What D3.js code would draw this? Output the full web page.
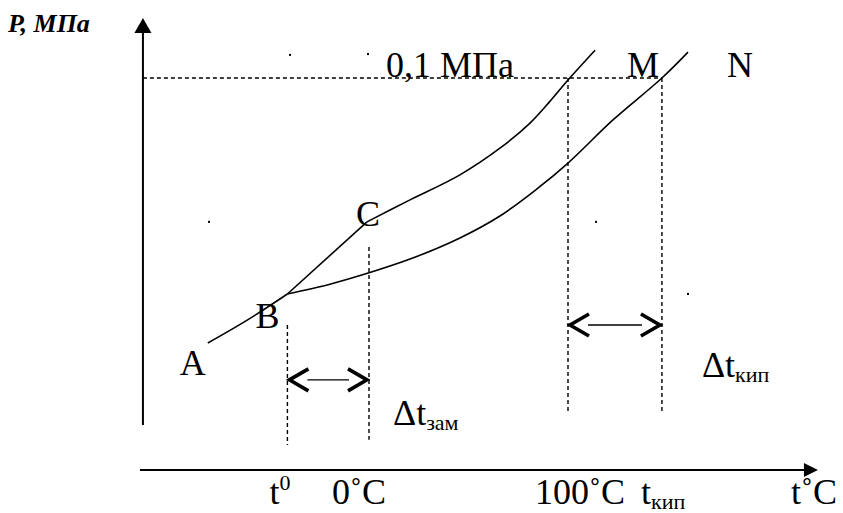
<!DOCTYPE html>
<html>
<head>
<meta charset="utf-8">
<script src="https://cdn.jsdelivr.net/npm/d3@7"></script>
<style>
  body { margin: 0; background: #fff; }
</style>
</head>
<body>
<div id="chart"></div>
<script>
// phase curves, [t °C, P MPa]
const sublimation = [[-81, 0.0324], [-61, 0.0383], [-41, 0.0449]];
const melting = [[-41, 0.0449], [-1, 0.0633]];
const pureVapor = [[-1, 0.0633], [20.6, 0.0689], [45.7, 0.0753], [65.8, 0.0821],
  [80.9, 0.0885], [91, 0.0941], [100, 0.0995], [113.6, 0.1071]];
const solutionVapor = [[-41, 0.0449], [-19.6, 0.0474], [0, 0.0503], [20.6, 0.0538],
  [45.7, 0.0592], [65.8, 0.0648], [84.4, 0.0717], [100, 0.0783], [122.6, 0.0893],
  [147.2, 0.1], [160.3, 0.1066]];

// key temperatures and pressure
const tFreeze = -41, tZero = 0, tHundred = 100, tBoil = 147.2;
const pAtm = 0.1;

// dashed guides: [t, Pfrom, Pto]
const guides = [[tFreeze, 0.037, 0.0064], [tZero, 0.0569, 0.0077],
  [tHundred, pAtm, 0.0145], [tBoil, pAtm, 0.0145]];
// interval arrows: [tFrom, tTo, P]
const spans = [[tFreeze, tZero, 0.023], [tHundred, tBoil, 0.037]];
// small stray dots in the original drawing
const specks = [[-39.7, 0.1059], [-0.5, 0.1061], [-80.4, 0.0633], [114.1, 0.0633], [160.3, 0.0449]];

const tAxis = [-113.6, 225.6];
const pAxis = [0.0115, 0.1153];

const w = 843, h = 513;
const x = d3.scaleLinear().domain([0, 100]).range([369, 568]);
const y = d3.scaleLinear().domain([0, 0.1]).range([470, 78]);

const svg = d3.select('#chart').append('svg').attr('width', w).attr('height', h);

const line = d3.line().x(d => x(d[0])).y(d => y(d[1])).curve(d3.curveCatmullRom.alpha(0.5));

// axes
const x0 = x(tAxis[0]);
svg.append('line').attr('x1', x0).attr('x2', x0)
  .attr('y1', y(pAxis[0])).attr('y2', y(pAxis[1]) + 12)
  .attr('stroke', '#000').attr('stroke-width', 2);
svg.append('path')
  .attr('d', `M${x0},${y(pAxis[1])} L${x0 - 8.5},${y(pAxis[1]) + 15} L${x0 + 8.5},${y(pAxis[1]) + 15} Z`)
  .attr('fill', '#000');

const y0 = y(0);
svg.append('line').attr('x1', x0 - 3).attr('x2', x(tAxis[1]) - 12)
  .attr('y1', y0).attr('y2', y0)
  .attr('stroke', '#000').attr('stroke-width', 2);
svg.append('path')
  .attr('d', `M${x(tAxis[1])},${y0} L${x(tAxis[1]) - 14},${y0 - 7} L${x(tAxis[1]) - 14},${y0 + 7} Z`)
  .attr('fill', '#000');

// dashed lines
svg.append('line')
  .attr('x1', x0).attr('x2', x(tBoil)).attr('y1', y(pAtm)).attr('y2', y(pAtm))
  .attr('stroke', '#000').attr('stroke-width', 1.4).attr('stroke-dasharray', '4,3');
svg.selectAll('.guide').data(guides).join('line')
  .attr('class', 'guide')
  .attr('x1', d => x(d[0])).attr('x2', d => x(d[0]))
  .attr('y1', d => y(d[1])).attr('y2', d => y(d[2]))
  .attr('stroke', '#000').attr('stroke-width', 1.4).attr('stroke-dasharray', '4,3');

// curves
svg.selectAll('.curve').data([sublimation, melting, pureVapor, solutionVapor]).join('path')
  .attr('class', 'curve')
  .attr('d', d => d.length === 2 ? d3.line().x(p => x(p[0])).y(p => y(p[1]))(d) : line(d))
  .attr('fill', 'none').attr('stroke', '#000').attr('stroke-width', 1.6);

// interval arrows
spans.forEach(([a, b, p]) => {
  const xa = x(a), xb = x(b), yy = y(p);
  svg.append('line').attr('x1', xa + 20).attr('x2', xb - 20).attr('y1', yy).attr('y2', yy)
    .attr('stroke', '#000').attr('stroke-width', 1.4);
  svg.append('path')
    .attr('d', `M${xa + 21},${yy - 11} L${xa + 2},${yy} L${xa + 21},${yy + 11}` +
      `M${xb - 21},${yy - 11} L${xb - 2},${yy} L${xb - 21},${yy + 11}`)
    .attr('fill', 'none').attr('stroke', '#000').attr('stroke-width', 3.6);
});

svg.selectAll('.speck').data(specks).join('rect')
  .attr('class', 'speck')
  .attr('x', d => x(d[0]) - 1).attr('y', d => y(d[1]) - 1)
  .attr('width', 2).attr('height', 2).attr('fill', '#000');

// labels
const fs = 36;
function label(tx, px, dx, dy, parts) {
  const t = svg.append('text').attr('x', x(tx) + dx).attr('y', y(px) + dy)
    .style('font-family', '"Liberation Serif"').style('font-size', fs + 'px');
  parts.forEach(p => {
    const s = t.append('tspan').text(p.s);
    if (p.sub) s.style('font-size', '22px').attr('dy', 5);
    if (p.sup) s.style('font-size', '22px').attr('dy', -14);
  });
  return t;
}

label(sublimation[0][0], sublimation[0][1], -28, 32, [{ s: 'A' }]);
label(tFreeze, melting[0][1], -32, 34, [{ s: 'B' }]);
label(melting[1][0], melting[1][1], -11, 4, [{ s: 'C' }]);
label(tBoil, pAtm, -35, -1, [{ s: 'M' }]);
label(tBoil, pAtm, 65, -1, [{ s: 'N' }]);
label(tZero, pAtm, 17, -1, [{ s: '0,1 МПа' }]);
label(tBoil, spans[1][2], 40, 52, [{ s: 'Δt' }, { s: 'кип', sub: true }]);
label(tZero, spans[0][2], 24, 45, [{ s: 'Δt' }, { s: 'зам', sub: true }]);

// temperature axis labels
const by = 34;
label(tFreeze, 0, -18, by, [{ s: 't' }, { s: '0', sup: true }]);
label(tZero, 0, -37, by, [{ s: '0˚C' }]);
label(tHundred, 0, -33, by, [{ s: '100˚C' }]);
label(tBoil, 0, -21, by, [{ s: 't' }, { s: 'кип', sub: true }]);
label(tAxis[1], 0, -27, by, [{ s: 't˚C' }]);

svg.append('text').attr('x', 8).attr('y', 32)
  .style('font-family', '"Liberation Serif"').style('font-size', '26px')
  .style('font-weight', 'bold').style('font-style', 'italic')
  .text('P, МПа');
</script>
</body>
</html>
